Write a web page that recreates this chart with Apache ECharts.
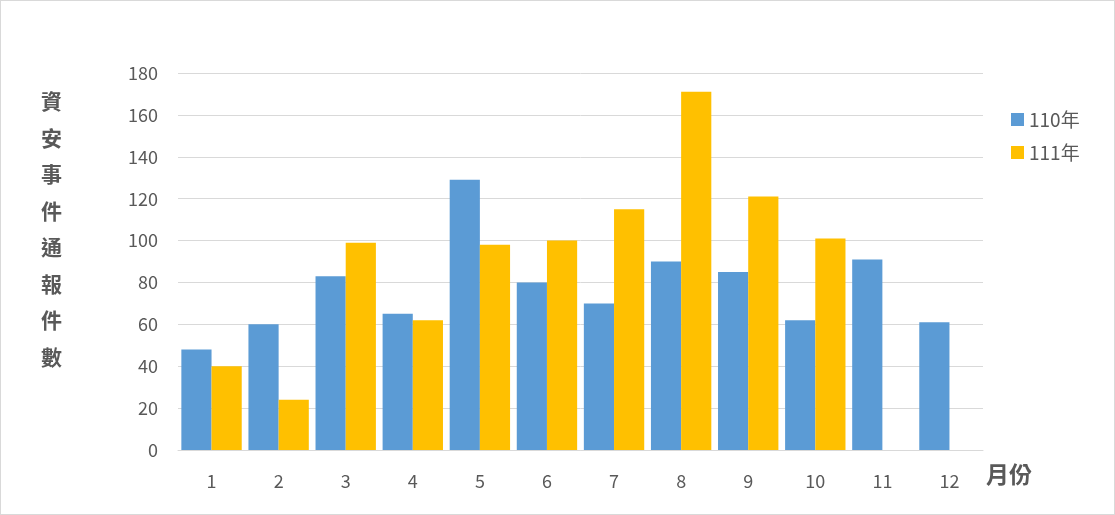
<!DOCTYPE html>
<html>
<head>
<meta charset="utf-8">
<script src="https://cdn.jsdelivr.net/npm/echarts@6/dist/echarts.min.js"></script>
<style>
 body{margin:0}
 #main{width:1113px;height:513px;border:1px solid #d9d9d9}
</style>
</head>
<body>
<div id="main"></div>
<script>
var months = ['1','2','3','4','5','6','7','8','9','10','11','12'];
var y110 = [48, 60, 83, 65, 129, 80, 70, 90, 85, 62, 91, 61];
var y111 = [40, 24, 99, 62, 98, 100, 115, 171, 121, 101, null, null];

var chart = echarts.init(document.getElementById('main'));
var font = '"Noto Sans CJK TC", sans-serif';
chart.setOption({
  textStyle: {fontFamily: font},
  graphic: [{
    type: 'text', left: 40, top: 82,
    style: {text: '資\n安\n事\n件\n通\n報\n件\n數', fill: '#595959', font: 'bold 21px ' + font, lineHeight: 36.5}
  }, {
    type: 'text', left: 985, top: 462,
    style: {text: '月份', fill: '#595959', font: 'bold 23px ' + font}
  }],
  legend: {
    orient: 'vertical', left: 1005, top: 104, itemWidth: 13, itemHeight: 13, itemGap: 14,
    icon: 'rect', textStyle: {color: '#595959', fontSize: 19, fontFamily: font},
    data: ['110年', '111年']
  },
  grid: {left: 177, right: 131, top: 72, bottom: 64},
  xAxis: {
    type: 'category', data: months,
    axisLine: {lineStyle: {color: '#d9d9d9'}}, axisTick: {show: false},
    axisLabel: {color: '#595959', fontSize: 18, margin: 22}
  },
  yAxis: {
    type: 'value', min: 0, max: 180, interval: 20,
    axisLabel: {color: '#595959', fontSize: 18, margin: 20},
    splitLine: {lineStyle: {color: '#d9d9d9'}}
  },
  series: [
    {name: '110年', type: 'bar', data: y110, itemStyle: {color: '#5B9BD5'}, barGap: '0%', barCategoryGap: '10%'},
    {name: '111年', type: 'bar', data: y111, itemStyle: {color: '#FFC000'}}
  ]
});
</script>
</body>
</html>
